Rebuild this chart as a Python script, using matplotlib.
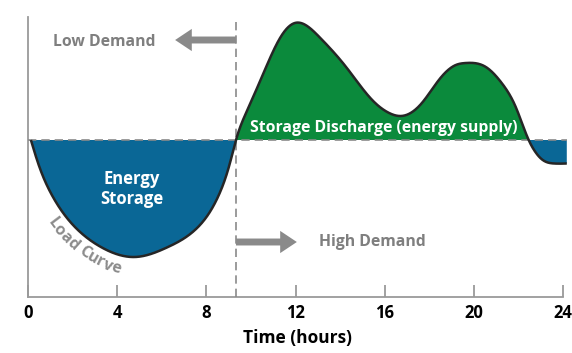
import numpy as np
import matplotlib
matplotlib.use("Agg")
import matplotlib.pyplot as plt

# ---- data ----
hours = [0.13, 0.45, 1.12, 2.24, 3.27, 4.8, 6.28, 7.49, 8.52, 9.06, 9.33,
         9.82, 10.49, 10.94, 11.39, 11.97, 13.07, 14.27, 15.44, 16.2, 16.73,
         17.67, 18.43, 19.19, 19.64, 20.54, 21.25, 21.88, 22.46, 22.73, 23.09,
         23.6, 24.17]
load = [0.0, -2.3, -5.7, -9.0, -10.7, -11.7, -10.7, -9.0, -5.7, -2.3, 0.0,
        2.9, 6.3, 8.6, 10.5, 11.7, 10.3, 7.3, 4.0, 2.7, 2.4,
        3.7, 6.0, 7.5, 7.7, 7.3, 5.7, 3.3, 0.0, -1.1, -2.0,
        -2.35, -2.35]
tick_hours = [0, 4, 8, 12, 16, 20, 24]
switch_hour = 9.33

GREEN = "#0b8a3c"
BLUE = "#0a6796"
GREY = "#8a8a8a"
FONT = ["Open Sans", "DejaVu Sans"]
plt.rcParams["font.family"] = FONT


def natural_spline(xs, ys, n=1500):
    x = np.asarray(xs, float)
    y = np.asarray(ys, float)
    m = len(x)
    h = np.diff(x)
    A = np.zeros((m, m))
    b = np.zeros(m)
    A[0, 0] = A[-1, -1] = 1
    for i in range(1, m - 1):
        A[i, i - 1] = h[i - 1]
        A[i, i] = 2 * (h[i - 1] + h[i])
        A[i, i + 1] = h[i]
        b[i] = 6 * ((y[i + 1] - y[i]) / h[i] - (y[i] - y[i - 1]) / h[i - 1])
    M = np.linalg.solve(A, b)
    xx = np.linspace(x[0], x[-1], n)
    idx = np.clip(np.searchsorted(x, xx) - 1, 0, m - 2)
    x0, x1 = x[idx], x[idx + 1]
    hh = x1 - x0
    a = (x1 - xx) / hh
    c = (xx - x0) / hh
    yy = (a * y[idx] + c * y[idx + 1]
          + ((a ** 3 - a) * M[idx] + (c ** 3 - c) * M[idx + 1]) * hh ** 2 / 6)
    return xx, yy


sx, sy = natural_spline(hours, load)

fig = plt.figure(figsize=(5.72, 3.53), dpi=100)
W, H = 572, 353
x0px, x24px = 28, 563
pxh = (x24px - x0px) / 24
xmax = 24.2
left = x0px / W
width = (xmax * pxh) / W
bottom = (H - 297) / H
top = (H - 17) / H
ax = fig.add_axes([left, bottom, width, top - bottom])
ax.set_xlim(0, xmax)
ax.set_ylim(-15.7, 12.3)

ax.fill_between(sx, sy, 0, where=sy >= 0, interpolate=True, color=GREEN, lw=0, zorder=2)
ax.fill_between(sx, sy, 0, where=sy <= 0, interpolate=True, color=BLUE, lw=0, zorder=2)
ax.plot(sx, sy, color="#262626", lw=1.8, zorder=4, solid_capstyle="butt")

ax.axhline(0, color=GREY, lw=1.2, ls=(0, (5, 3)), zorder=3)
ax.axvline(switch_hour, color=GREY, lw=1.2, ls=(0, (5, 3)), zorder=3)

for s in ["top", "right"]:
    ax.spines[s].set_visible(False)
for s in ["left", "bottom"]:
    ax.spines[s].set_color("#9a9a9a")
    ax.spines[s].set_linewidth(1.3)
ax.spines["bottom"].set_bounds(0, 24)
ax.set_yticks([])
ax.set_xticks(tick_hours)
ax.set_xticklabels([str(t) for t in tick_hours], fontsize=12, fontweight="bold")
ax.tick_params(axis="x", direction="in", length=9, width=1.3, color="#9a9a9a", pad=5)
ax.set_xlabel("Time (hours)", fontsize=12.5, fontweight="bold", labelpad=5)

# arrows
astyle = "simple,head_length=1.2,head_width=1.6,tail_width=0.5"
ax.annotate("", xy=(6.6, 10.0), xytext=(switch_hour, 10.0),
            arrowprops=dict(arrowstyle=astyle, color=GREY, lw=0, shrinkA=0, shrinkB=0))
ax.annotate("", xy=(12.06, -10.2), xytext=(switch_hour, -10.2),
            arrowprops=dict(arrowstyle=astyle, color=GREY, lw=0, shrinkA=0, shrinkB=0))

ax.text(3.4, 9.8, "Low Demand", color="#7f7f7f", fontsize=11.3, fontweight="bold",
        ha="center", va="center")
ax.text(13.05, -10.2, "High Demand", color="#7f7f7f", fontsize=11.3, fontweight="bold",
        ha="left", va="center")
ax.text(4.65, -4.9, "Energy\nStorage", color="white", fontsize=12, fontweight="bold",
        ha="center", va="center", linespacing=1.1, zorder=5)
ax.text(9.95, 1.2, "Storage Discharge (energy supply)", color="white", fontsize=11.3,
        fontweight="bold", ha="left", va="center", zorder=5)

# "Load Curve" placed character by character along the curve
label = "Load Curve"
fs = 11.5
fig.canvas.draw()
renderer = fig.canvas.get_renderer()
pts = ax.transData.transform(np.column_stack([sx, sy]))
seg = np.diff(pts, axis=0)
tang = seg / np.linalg.norm(seg, axis=1)[:, None]
norm = np.column_stack([tang[:, 1], -tang[:, 0]])
offset = 14.0
opts = pts[:-1] + norm * offset
mask = sx[:-1] < 5.0
opts = opts[mask]
otang = tang[mask]
arc = np.concatenate([[0], np.cumsum(np.linalg.norm(np.diff(opts, axis=0), axis=1))])
widths = []
for ch in label:
    t = fig.text(0, 0, ch if ch != " " else "n", fontsize=fs, fontweight="bold")
    w = t.get_window_extent(renderer).width
    t.remove()
    widths.append(w * (0.5 if ch == " " else 0.97))
total = sum(widths)
center_hour = 2.75
ci = np.argmin(np.abs(sx[:-1][mask] - center_hour))
s_pos = arc[ci] - total / 2
for ch, w in zip(label, widths):
    sc = s_pos + w / 2
    k = np.clip(np.searchsorted(arc, sc), 0, len(arc) - 1)
    px, py = opts[k]
    ang = np.degrees(np.arctan2(otang[k][1], otang[k][0]))
    if ch != " ":
        fig.text(px / fig.dpi / fig.get_figwidth(), py / fig.dpi / fig.get_figheight(), ch,
                 fontsize=fs, fontweight="bold", color="#8c8c8c", ha="center", va="center",
                 rotation=ang, rotation_mode="anchor")
    s_pos += w

fig.savefig("out.png", dpi=100)
